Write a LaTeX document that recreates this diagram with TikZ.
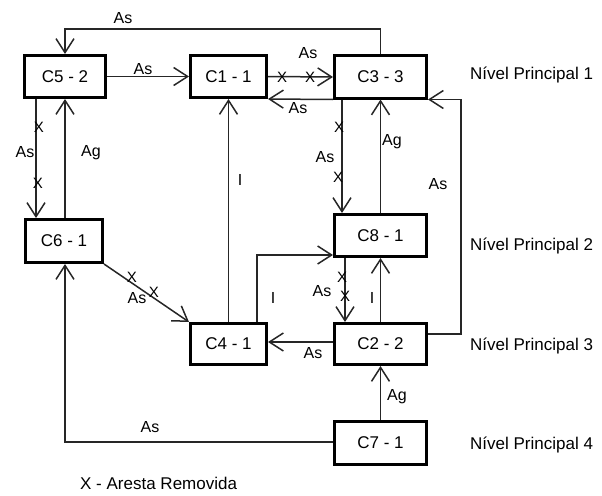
\documentclass[tikz,border=0pt]{standalone}
\usepackage{fontspec}
\setmainfont{Liberation Sans}
\usetikzlibrary{arrows.meta}
\begin{document}
\begin{tikzpicture}[x=1pt,y=-1pt,
  box/.style={draw=black, line width=3pt, inner sep=0pt, font=\fontsize{17}{20}\selectfont},
  arr/.style={draw=black!85, line width=1.5pt, -{Straight Barb[length=14pt,width=18pt]}},
  lab/.style={font=\fontsize{16}{19}\selectfont, inner sep=0pt},
  xm/.style={font=\fontsize{15}{17}\selectfont, inner sep=0pt},
  lvl/.style={font=\fontsize{17}{20}\selectfont, inner sep=0pt, anchor=west}]
\useasboundingbox (0,0) rectangle (602,495);
% boxes
\node[box, minimum width=81pt, minimum height=42pt] (c5) at (65,76.5) {C5 - 2};
\node[box, minimum width=76pt, minimum height=42pt] (c1) at (228.5,76.5) {C1 - 1};
\node[box, minimum width=92pt, minimum height=42pt] (c3) at (380.5,77) {C3 - 3};
\node[box, minimum width=77pt, minimum height=43pt] (c6) at (64,241) {C6 - 1};
\node[box, minimum width=76pt, minimum height=41pt] (c4) at (228.5,344) {C4 - 1};
\node[box, minimum width=92pt, minimum height=42pt] (c8) at (380.5,235.5) {C8 - 1};
\node[box, minimum width=92pt, minimum height=41pt] (c2) at (380.5,344) {C2 - 2};
\node[box, minimum width=92pt, minimum height=43pt] (c7) at (380.5,443) {C7 - 1};
% edges
\draw[arr] (c3.north) -- (c3.north |- 0,29) -| (c5.north);
\draw[arr] (c5.east) -- (c1.west);
\draw[arr] (c1.east) -- (c3.west);
\draw[arr] (c3.south west) -- (c1.south east);
\draw[arr] ([xshift=-29pt]c5.south) -- ([xshift=-28pt]c6.north);
\draw[arr] ([xshift=1pt]c6.north) -- (c5.south);
\draw[arr] (c4.north) -- (c1.south);
\draw[arr] ([xshift=-38.5pt]c3.south) -- ([xshift=-38.5pt]c8.north);
\draw[arr] (c8.north) -- (c3.south);
\draw[arr] ([yshift=10pt]c2.east) -- ++(33,0) |- (c3.south east);
\draw[arr] (c6.south east) -- (c4.north west);
\draw[arr] ([xshift=28.5pt]c4.north) |- ([yshift=3pt]c8.south west);
\draw[arr] ([xshift=-35.5pt]c8.south) -- ([xshift=-35.5pt]c2.north);
\draw[arr] (c2.north) -- (c8.south);
\draw[arr] ([yshift=2pt]c2.west) -- ([yshift=2pt]c4.east);
\draw[arr] (c7.north) -- (c2.south);
\draw[arr] ([yshift=1pt]c7.west) -| ([xshift=1pt]c6.south);
% edge labels
\node[lab] (l1) at (123,18) {As};
\node[lab] (l2) at (143,69) {As};
\node[lab] (l3) at (308,53) {As};
\node[lab] (l4) at (298,108) {As};
\node[lab] (l5) at (25,152) {As};
\node[lab] (l6) at (91,153) {Ag};
\node[lab] (l7) at (240,180) {I};
\node[lab] (l8) at (325,157) {As};
\node[lab] (l9) at (392,142) {Ag};
\node[lab] (l10) at (438,184) {As};
\node[lab] (l11) at (137,298) {As};
\node[lab] (l12) at (273,298) {I};
\node[lab] (l13) at (322,291) {As};
\node[lab] (l14) at (372,298) {I};
\node[lab] (l15) at (313,353) {As};
\node[lab] (l16) at (397,397) {Ag};
\node[lab] (l17) at (150,427) {As};
% removed-edge marks
\node[xm] (x1) at (282,77) {X};
\node[xm] (x2) at (310,77) {X};
\node[xm] (x3) at (39,127) {X};
\node[xm] (x4) at (38,183) {X};
\node[xm] (x5) at (339,127) {X};
\node[xm] (x6) at (338,177) {X};
\node[xm] (x7) at (132,277) {X};
\node[xm] (x8) at (154,292) {X};
\node[xm] (x9) at (342,277) {X};
\node[xm] (x10) at (345,296) {X};
% levels
\node[lvl] (n1) at (470,75) {Nível Principal 1};
\node[lvl] (n2) at (470,246) {Nível Principal 2};
\node[lvl] (n3) at (470,346) {Nível Principal 3};
\node[lvl] (n4) at (470,445) {Nível Principal 4};
\node[lvl] (leg) at (80,483) {X - Aresta Removida};
\end{tikzpicture}
\end{document}
